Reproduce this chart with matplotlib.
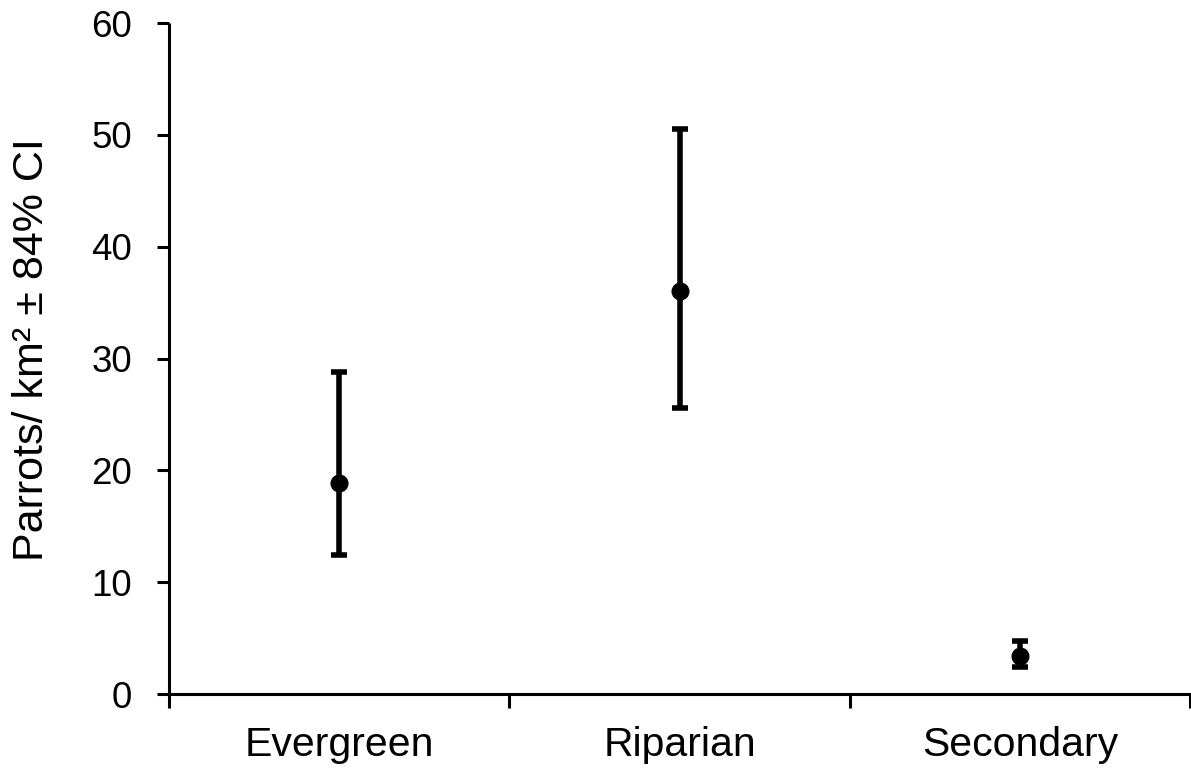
import matplotlib
matplotlib.use("Agg")
import matplotlib.pyplot as plt
import numpy as np

# habitat densities
habitats = ["Evergreen", "Riparian", "Secondary"]
density = [18.9, 36.0, 3.4]
ci_low = [12.4, 25.6, 2.4]
ci_high = [28.8, 50.5, 4.7]

plt.rcParams["font.family"] = ["Liberation Sans", "DejaVu Sans"]

fig = plt.figure(figsize=(11.91, 7.75), dpi=100)
ax = fig.add_axes([0.1419, 0.1045, 0.8575, 0.8658])

x = np.arange(len(habitats))
dens = np.array(density)
yerr = [dens - np.array(ci_low), np.array(ci_high) - dens]
ax.errorbar(x, dens, yerr=yerr, fmt="o", color="black", markersize=12,
            elinewidth=4, capsize=5.5, capthick=4)

ax.set_xlim(-0.5, 2.5)
ax.set_ylim(0, 60)
ax.set_yticks(np.arange(0, 61, 10))
ax.set_xticks(x)
ax.set_xticklabels(habitats)
ax.set_xticks([-0.5, 0.5, 1.5, 2.5], minor=True)

for side in ["top", "right"]:
    ax.spines[side].set_visible(False)
for side in ["left", "bottom"]:
    ax.spines[side].set_linewidth(2.2)
ax.spines["left"].set_capstyle("butt")

ax.tick_params(axis="y", direction="out", length=8.6, width=2.2, labelsize=26.5, pad=18)
ax.tick_params(axis="x", which="major", length=0, labelsize=29.5, pad=23)
ax.tick_params(axis="x", which="minor", direction="out", length=10, width=2.2)

ax.set_ylabel("Parrots/ km² ± 84% CI", fontsize=31)
ax.yaxis.set_label_coords(-0.1146, 0.514)

fig.savefig("out.png", dpi=100)
